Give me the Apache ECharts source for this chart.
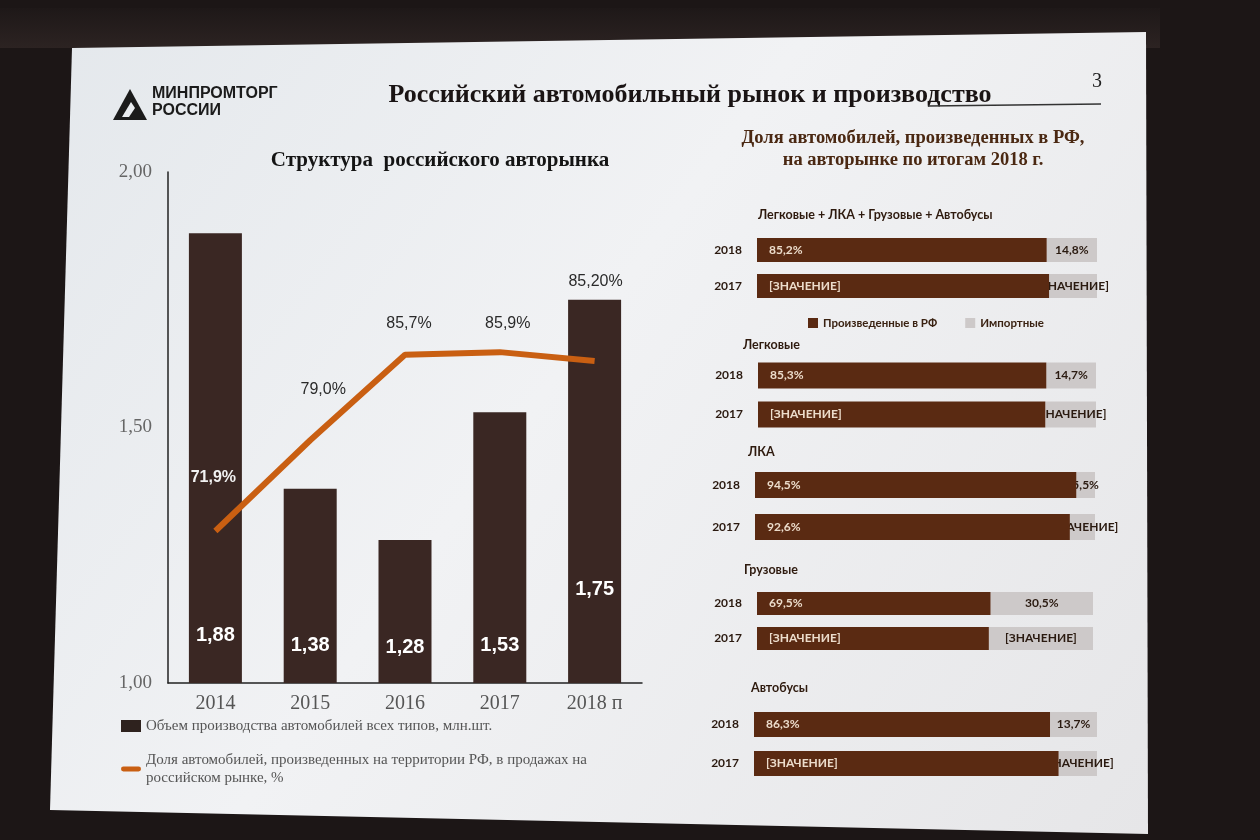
<!DOCTYPE html>
<html>
<head>
    <meta charset="UTF-8">
    <title>Российский автомобильный рынок</title>
    <script type="text/javascript" src="https://cdn.jsdelivr.net/npm/echarts@6/dist/echarts.min.js"></script>
</head>
<style>
    html, body { margin: 0; padding: 0; background: #1c1616; }
    .main { width: 1260px; height: 840px; }
</style>
<body>
<div id="charts" class="main"></div>
<script type="text/javascript">
    // left chart data
    var years = ['2014', '2015', '2016', '2017', '2018 п'];
    var volume = [1.88, 1.38, 1.28, 1.53, 1.75];
    var share = [71.9, 79.0, 85.7, 85.9, 85.2];
    var shareLabels = ['71,9%', '79,0%', '85,7%', '85,9%', '85,20%'];
    var yTicks = [1.0, 1.5, 2.0];

    // right chart data
    var groups = ['Легковые + ЛКА + Грузовые + Автобусы', 'Легковые', 'ЛКА', 'Грузовые', 'Автобусы'];
    var rowYears = ['2018', '2017'];
    var prod2018 = [85.2, 85.3, 94.5, 69.5, 86.3];
    var imp2018 = [14.8, 14.7, 5.5, 30.5, 13.7];
    var prod2017 = [85.9, 85.0, 92.6, 69.0, 88.8];
    var imp2017 = [14.1, 15.0, 7.4, 31.0, 11.2];
    var prodLabels2017 = ['[ЗНАЧЕНИЕ]', '[ЗНАЧЕНИЕ]', '92,6%', '[ЗНАЧЕНИЕ]', '[ЗНАЧЕНИЕ]'];
    var impLabels2017 = ['[ЗНАЧЕНИЕ]', '[ЗНАЧЕНИЕ]', '[ЗНАЧЕНИЕ]', '[ЗНАЧЕНИЕ]', '[ЗНАЧЕНИЕ]'];

    var volName = 'Объем производства автомобилей всех типов, млн.шт.';
    var shareName = 'Доля автомобилей, произведенных на территории РФ, в продажах на российском рынке, %';

    // layout / style
    var serif = 'Liberation Serif';
    var sans = 'Liberation Sans';
    var cal = 'Lato';
    var brown = '#5a2a12';
    var grey = '#cdc9c9';
    var orange = '#c95f12';
    var volLabelDist = [38, 28, 26, 28, 84];
    var shareLabelOffset = [[-2, -40], [13, -38], [4, -18], [8, -15], [1, -66]];
    // right block boxes: top, height, left, end, barWidth, title x/y
    var boxes = [
        {top: 232, h: 72, left: 757, end: 1097, bw: 24, tx: 758, ty: 215},
        {top: 356, h: 78, left: 758, end: 1096, bw: 26, tx: 743, ty: 345},
        {top: 464, h: 84, left: 755, end: 1095, bw: 26, tx: 748, ty: 452},
        {top: 586, h: 70, left: 757, end: 1093, bw: 23, tx: 744, ty: 570},
        {top: 705, h: 78, left: 754, end: 1097, bw: 25, tx: 751, ty: 688}
    ];

    function comma(v, d) {
        return v.toFixed(d).replace('.', ',');
    }

    function txt(x, y, text, font, fill, align) {
        return {type: 'text', x: x, y: y, style: {text: text, font: font, fill: fill,
            align: align, verticalAlign: 'middle', textAlign: align, textVerticalAlign: 'middle'}};
    }

    var chart = echarts.init(document.getElementById('charts'));

    var grids = [{left: 168, top: 172, width: 474, height: 511}];
    var xAxes = [{
        type: 'category', gridIndex: 0, data: years,
        axisLine: {lineStyle: {color: '#222', width: 1.5}},
        axisTick: {show: false},
        axisLabel: {fontFamily: serif, fontSize: 20, color: '#555', margin: 11}
    }];
    var yAxes = [{
        type: 'value', gridIndex: 0, min: yTicks[0], max: yTicks[2], interval: 0.5,
        axisLine: {show: true, lineStyle: {color: '#222', width: 1.5}},
        axisTick: {show: false},
        splitLine: {show: false},
        axisLabel: {fontFamily: serif, fontSize: 19, color: '#666', margin: 16,
            formatter: function (v) { return comma(v, 2); }}
    }, {
        type: 'value', gridIndex: 0, min: 60, max: 100, show: false, splitLine: {show: false}
    }];

    var series = [{
        name: volName, type: 'bar', xAxisIndex: 0, yAxisIndex: 0, barWidth: 53,
        itemStyle: {color: '#3a2723'},
        data: volume.map(function (v, i) {
            return {value: v, label: {distance: volLabelDist[i]}};
        }),
        label: {show: true, position: 'insideBottom', color: '#fff', fontFamily: sans,
            fontSize: 20, fontWeight: 'bold',
            formatter: function (p) { return comma(p.value, 2); }}
    }, {
        name: shareName, type: 'line', xAxisIndex: 0, yAxisIndex: 1, z: 5,
        symbol: 'circle', symbolSize: 0.1, showSymbol: true,
        lineStyle: {color: orange, width: 6}, itemStyle: {color: orange},
        data: share.map(function (v, i) {
            return {value: v, label: {offset: shareLabelOffset[i],
                color: i === 0 ? '#f2f2f2' : '#2a2a2a', fontWeight: i === 0 ? 'bold' : 'normal'}};
        }),
        label: {show: true, position: 'top', fontFamily: sans, fontSize: 16,
            formatter: function (p) { return shareLabels[p.dataIndex]; }}
    }];

    var graphics = [
        // slide
        {type: 'rect', z: -11, shape: {x: 0, y: 8, width: 1160, height: 40},
            style: {fill: new echarts.graphic.LinearGradient(0, 0, 0, 1, [
                {offset: 0, color: '#1e1818'}, {offset: 1, color: '#2c2322'}])}},
        {type: 'polygon', z: -10, shape: {points: [[72, 48], [1146, 32], [1148, 834], [50, 810]]},
            style: {fill: new echarts.graphic.LinearGradient(0, 0, 1, 1, [
                {offset: 0, color: '#e4e8ec'}, {offset: 0.45, color: '#f1f2f4'}, {offset: 1, color: '#e6e6e8'}])}},
        // logo
        {type: 'polygon', shape: {points: [[113, 120], [130, 89], [147, 120]]}, style: {fill: '#1b1b1b'}},
        {type: 'polygon', shape: {points: [[122, 117], [131, 102], [135, 108], [129, 117]]}, style: {fill: '#e9ecef'}},
        txt(152, 94, 'МИНПРОМТОРГ', 'bold 16px ' + sans, '#1b1b1b', 'left'),
        txt(152, 111, 'РОССИИ', 'bold 16px ' + sans, '#1b1b1b', 'left'),
        // headings
        txt(690, 95, 'Российский автомобильный рынок и производство', 'bold 26px ' + serif, '#1a1414', 'center'),
        {type: 'line', shape: {x1: 928, y1: 106, x2: 1101, y2: 104}, style: {stroke: '#333', lineWidth: 1.5}},
        txt(1097, 82, '3', '20px ' + serif, '#222', 'center'),
        txt(440, 161, 'Структура  российского авторынка', 'bold 21px ' + serif, '#141414', 'center'),
        txt(913, 138, 'Доля автомобилей, произведенных в РФ,', 'bold 18.5px ' + serif, '#4a2812', 'center'),
        txt(913, 160, 'на авторынке по итогам 2018 г.', 'bold 18.5px ' + serif, '#4a2812', 'center')
    ];

    // stacked produced + imported bars per block
    for (var i = 0; i < groups.length; i++) {
        var b = boxes[i];
        var gi = i + 1;
        grids.push({left: b.left, top: b.top, width: b.end - b.left, height: b.h});
        xAxes.push({type: 'value', gridIndex: gi, min: 0, max: 100, show: false, splitLine: {show: false}});
        yAxes.push({
            type: 'category', gridIndex: gi, data: rowYears, inverse: true,
            axisLine: {show: false}, axisTick: {show: false},
            axisLabel: {fontFamily: cal, fontSize: 12, fontWeight: 'bold', color: '#2b1a10', margin: 15}
        });
        (function (idx) {
            series.push({
                name: 'Произведенные в РФ', type: 'bar', stack: 'p' + idx,
                xAxisIndex: idx + 1, yAxisIndex: idx + 2, barWidth: boxes[idx].bw,
                itemStyle: {color: brown}, z: 3,
                data: [prod2018[idx], prod2017[idx]],
                label: {show: true, position: 'insideLeft', distance: 12, color: '#ecdccb',
                    fontFamily: cal, fontSize: 12, fontWeight: 'bold',
                    formatter: function (p) {
                        return p.dataIndex === 0 ? comma(prod2018[idx], 1) + '%' : prodLabels2017[idx];
                    }}
            });
            series.push({
                name: 'Импортные', type: 'bar', stack: 'p' + idx,
                xAxisIndex: idx + 1, yAxisIndex: idx + 2, barWidth: boxes[idx].bw,
                itemStyle: {color: grey}, z: 2,
                data: [imp2018[idx], imp2017[idx]],
                label: {show: true, position: 'inside', color: '#2a1a10',
                    fontFamily: cal, fontSize: 12, fontWeight: 'bold',
                    formatter: function (p) {
                        return p.dataIndex === 0 ? comma(imp2018[idx], 1) + '%' : impLabels2017[idx];
                    }}
            });
        })(i);
        graphics.push(txt(b.tx, b.ty, groups[i], 'bold 12.5px ' + cal, '#2e1a0e', 'left'));
    }

    var option = {
        backgroundColor: '#1c1616',
        animation: false,
        grid: grids,
        xAxis: xAxes,
        yAxis: yAxes,
        legend: [{
            left: 116, top: 712, orient: 'vertical', itemGap: 16,
            itemWidth: 20, itemHeight: 12,
            data: [
                {name: volName, icon: 'rect', itemStyle: {color: '#2e221e'}},
                {name: shareName, icon: 'path://M2,0H18A2.5,2.5,0,0,1,18,5H2A2.5,2.5,0,0,1,2,0Z',
                    itemStyle: {color: orange}}
            ],
            formatter: function (name) {
                return name === shareName
                    ? 'Доля автомобилей, произведенных на территории РФ, в продажах на\nроссийском рынке, %'
                    : name;
            },
            textStyle: {fontFamily: serif, fontSize: 15, color: '#555', lineHeight: 18}
        }, {
            left: 803, top: 312, itemWidth: 10, itemHeight: 10, itemGap: 28,
            data: [{name: 'Произведенные в РФ', icon: 'rect', itemStyle: {color: brown}},
                {name: 'Импортные', icon: 'rect', itemStyle: {color: grey}}],
            textStyle: {fontFamily: cal, fontSize: 11.5, fontWeight: 'bold', color: '#3a2212'}
        }],
        graphic: graphics,
        series: series
    };
    chart.setOption(option);
</script>
</body>
</html>
